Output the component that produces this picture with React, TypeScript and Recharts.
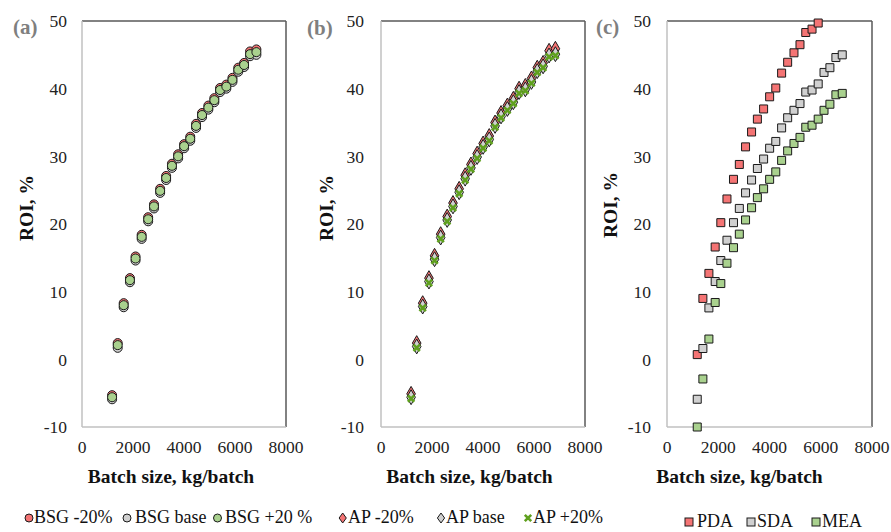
import { ReferenceLine, Scatter, ScatterChart, XAxis, YAxis, ZAxis } from "recharts";

const FONT = "Liberation Serif";

// batch size, kg/batch (shared by all panels)
const batchSize = [
  1180, 1400, 1635, 1880, 2100, 2340, 2595, 2823, 3065, 3300, 3527, 3770, 4005,
  4245, 4473, 4708, 4955, 5190, 5415, 5660, 5900, 6128, 6357, 6591, 6839,
];

// (a) BSG price sensitivity, ROI %
const bsgMinus20 = [
  -5.3, 2.4, 8.3, 12.0, 15.2, 18.4, 21.0, 22.9, 25.2, 27.1, 28.9, 30.3, 31.8,
  32.9, 34.8, 36.4, 37.5, 38.6, 40.1, 40.6, 41.6, 43.1, 43.8, 45.5, 45.8,
];
const bsgBase = [
  -5.9, 1.7, 7.7, 11.4, 14.6, 17.8, 20.4, 22.3, 24.6, 26.5, 28.3, 29.7, 31.2,
  32.3, 34.2, 35.8, 36.9, 38.0, 39.5, 40.0, 41.0, 42.5, 43.2, 44.8, 45.0,
];
const bsgPlus20 = [
  -5.6, 2.1, 8.0, 11.7, 14.9, 18.1, 20.7, 22.6, 24.9, 26.8, 28.6, 30.0, 31.5,
  32.6, 34.5, 36.1, 37.2, 38.3, 39.8, 40.3, 41.3, 42.8, 43.5, 45.1, 45.4,
];

// (b) AP price sensitivity, ROI %
const apMinus20 = [
  -5.1, 2.4, 8.3, 12.0, 15.3, 18.5, 21.1, 23.1, 25.2, 27.2, 28.8, 30.4, 31.9,
  33.0, 35.0, 36.4, 37.5, 38.5, 40.0, 40.4, 41.5, 43.1, 43.8, 45.6, 45.9,
];
const apBase = [
  -5.6, 1.9, 7.8, 11.5, 14.8, 18.0, 20.6, 22.6, 24.7, 26.7, 28.3, 29.9, 31.4,
  32.5, 34.5, 35.9, 37.0, 38.0, 39.5, 39.9, 41.0, 42.6, 43.3, 44.9, 45.1,
];
const apPlus20 = [
  -5.8, 1.7, 7.6, 11.3, 14.6, 17.8, 20.4, 22.4, 24.5, 26.5, 28.1, 29.7, 31.2,
  32.3, 34.3, 35.7, 36.8, 37.8, 39.3, 39.7, 40.8, 42.4, 43.1, 44.7, 44.9,
];

// (c) medium, ROI %
const pda = [
  0.7, 9.0, 12.7, 16.6, 20.2, 23.7, 26.6, 28.8, 31.4, 33.6, 35.5, 37.0, 38.8,
  40.1, 42.3, 43.9, 45.3, 46.5, 48.3, 48.8, 49.7,
];
const sda = [
  -5.9, 1.6, 7.6, 11.5, 14.6, 17.6, 20.2, 22.3, 24.6, 26.5, 28.2, 29.6, 31.2,
  32.2, 34.2, 35.7, 36.8, 37.8, 39.5, 39.8, 40.7, 42.4, 43.1, 44.6, 45.0,
];
const mea = [
  -10.0, -2.9, 3.0, 8.4, 11.2, 14.2, 16.5, 18.5, 20.6, 22.4, 23.9, 25.2, 26.6,
  27.7, 29.4, 30.8, 31.9, 32.8, 34.3, 34.6, 35.5, 36.8, 37.7, 39.1, 39.3,
];

const xTicks = [0, 2000, 4000, 6000, 8000];
const yTicks = [-10, 0, 10, 20, 30, 40, 50];

const RED = "#F47474";
const GREY = "#D0D0D0";
const GREEN = "#A9D18E";
const XGREEN = "#5FA01E";
const EDGE = "#1a1a1a";

const toPoints = (ys: number[]) => ys.map((roi, i) => ({ batch: batchSize[i], roi }));

const greenCross = (props: any) => {
  const { cx, cy } = props;
  const r = 3.2;
  return (
    <path
      d={`M${cx - r},${cy - r}L${cx + r},${cy + r}M${cx - r},${cy + r}L${cx + r},${cy - r}`}
      stroke={XGREEN}
      strokeWidth={2.6}
      fill="none"
    />
  );
};

type PanelProps = {
  left: number;
  width: number;
  yAxisWidth: number;
  marginRight: number;
  tickGap: number;
  size: number;
  children: React.ReactNode;
};

function Panel({ left, width, yAxisWidth, marginRight, tickGap, size, children }: PanelProps) {
  const tickStyle = { fill: "#222", fontSize: 17.5, style: { fontFamily: FONT } };
  return (
    <div style={{ position: "absolute", left, top: 0 }}>
      <ScatterChart
        width={width}
        height={532}
        margin={{ top: 21, right: marginRight, bottom: 75, left: 0 }}
        style={{ fontFamily: FONT }}
      >
        <XAxis
          type="number"
          dataKey="batch"
          domain={[0, 8000]}
          ticks={xTicks}
          interval={0}
          height={30}
          tickLine={false}
          tickSize={0}
          tickMargin={14}
          axisLine={{ stroke: "#c0c0c0", strokeWidth: 1.5 }}
          tick={tickStyle}
        />
        <YAxis
          type="number"
          dataKey="roi"
          domain={[-10, 50]}
          ticks={yTicks}
          interval={0}
          width={yAxisWidth}
          tickLine={false}
          tickSize={0}
          tickMargin={tickGap}
          axisLine={{ stroke: "#c0c0c0", strokeWidth: 1.5 }}
          tick={tickStyle}
        />
        <ZAxis range={[size, size]} />
        <ReferenceLine y={50} stroke="#595959" strokeWidth={1.5} />
        <ReferenceLine x={8000} stroke="#595959" strokeWidth={1.5} />
        {children}
      </ScatterChart>
    </div>
  );
}

const legendText = { fontSize: 18, fill: "#111", style: { fontFamily: FONT } };
const titleText = { fontSize: 19.5, fontWeight: 700, fill: "#111", style: { fontFamily: FONT } };
const panelText = { fontSize: 21, fontWeight: 700, fill: "#7f7f7f", style: { fontFamily: FONT } };

function diamond(cx: number, cy: number) {
  return `M${cx},${cy - 5}L${cx + 3.6},${cy}L${cx},${cy + 5}L${cx - 3.6},${cy}Z`;
}

export default function App() {
  return (
    <div style={{ position: "absolute", left: 0, top: 0, width: 891, height: 532, background: "#fff", fontFamily: FONT }}>
      <Panel left={0} width={320} yAxisWidth={82} marginRight={34} tickGap={15} size={64}>
        <Scatter name="BSG -20%" data={toPoints(bsgMinus20)} shape="circle" fill={RED} stroke={EDGE} strokeWidth={1} isAnimationActive={false} />
        <Scatter name="BSG base" data={toPoints(bsgBase)} shape="circle" fill={GREY} stroke={EDGE} strokeWidth={1} isAnimationActive={false} />
        <Scatter name="BSG +20 %" data={toPoints(bsgPlus20)} shape="circle" fill={GREEN} stroke={EDGE} strokeWidth={1} isAnimationActive={false} />
      </Panel>
      <Panel left={297} width={320} yAxisWidth={84} marginRight={32} tickGap={17} size={44}>
        <Scatter name="AP -20%" data={toPoints(apMinus20)} shape="diamond" fill={RED} stroke={EDGE} strokeWidth={1} isAnimationActive={false} />
        <Scatter name="AP base" data={toPoints(apBase)} shape="diamond" fill={GREY} stroke={EDGE} strokeWidth={1} isAnimationActive={false} />
        <Scatter name="AP +20%" data={toPoints(apPlus20)} shape={greenCross} fill={XGREEN} isAnimationActive={false} />
      </Panel>
      <Panel left={594} width={297} yAxisWidth={73} marginRight={19} tickGap={16} size={72}>
        <Scatter name="PDA" data={toPoints(pda)} shape="square" fill={RED} stroke={EDGE} strokeWidth={1} isAnimationActive={false} />
        <Scatter name="SDA" data={toPoints(sda)} shape="square" fill={GREY} stroke={EDGE} strokeWidth={1} isAnimationActive={false} />
        <Scatter name="MEA" data={toPoints(mea)} shape="square" fill={GREEN} stroke={EDGE} strokeWidth={1} isAnimationActive={false} />
      </Panel>

      <svg width={891} height={532} style={{ position: "absolute", left: 0, top: 0, pointerEvents: "none" }}>
        <text x={13} y={34} {...panelText}>(a)</text>
        <text x={307} y={35} {...panelText}>(b)</text>
        <text x={596} y={34} {...panelText}>(c)</text>

        <text transform="translate(33,208) rotate(-90)" textAnchor="middle" {...titleText}>ROI, %</text>
        <text transform="translate(333,208) rotate(-90)" textAnchor="middle" {...titleText}>ROI, %</text>
        <text transform="translate(617,205) rotate(-90)" textAnchor="middle" {...titleText}>ROI, %</text>

        <text x={171} y={483} textAnchor="middle" {...titleText}>Batch size, kg/batch</text>
        <text x={469.5} y={483} textAnchor="middle" {...titleText}>Batch size, kg/batch</text>
        <text x={739.5} y={483} textAnchor="middle" {...titleText}>Batch size, kg/batch</text>

        {/* legend (a) */}
        <circle cx={29} cy={518} r={4} fill={RED} stroke={EDGE} strokeWidth={1} />
        <text x={34} y={523} {...legendText}>BSG -20%</text>
        <circle cx={127} cy={518} r={4} fill={GREY} stroke={EDGE} strokeWidth={1} />
        <text x={135} y={523} {...legendText}>BSG base</text>
        <circle cx={217.5} cy={518} r={4} fill={GREEN} stroke={EDGE} strokeWidth={1} />
        <text x={225} y={523} {...legendText}>BSG +20 %</text>

        {/* legend (b) */}
        <path d={diamond(342.7, 518)} fill={RED} stroke={EDGE} strokeWidth={1} />
        <text x={348} y={523} {...legendText}>AP -20%</text>
        <path d={diamond(441, 518)} fill={GREY} stroke={EDGE} strokeWidth={1} />
        <text x={446} y={523} {...legendText}>AP base</text>
        {greenCross({ cx: 528, cy: 518 })}
        <text x={533} y={523} {...legendText}>AP +20%</text>

        {/* legend (c) */}
        <rect x={685} y={518} width={8} height={8} fill={RED} stroke={EDGE} strokeWidth={1} />
        <text x={697} y={527} {...legendText}>PDA</text>
        <rect x={747} y={518} width={8} height={8} fill={GREY} stroke={EDGE} strokeWidth={1} />
        <text x={757} y={527} {...legendText}>SDA</text>
        <rect x={812} y={518} width={8} height={8} fill={GREEN} stroke={EDGE} strokeWidth={1} />
        <text x={822} y={527} {...legendText}>MEA</text>
      </svg>
    </div>
  );
}
